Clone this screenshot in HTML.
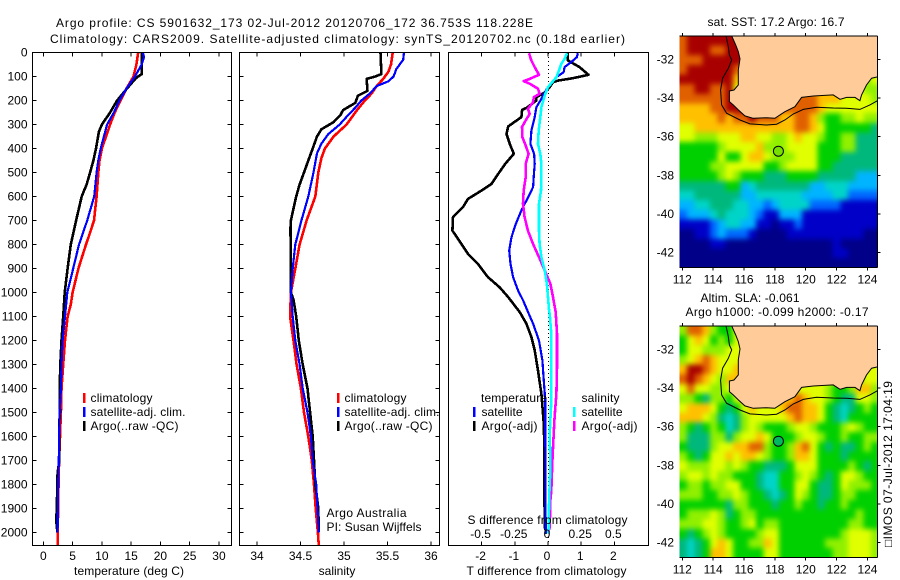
<!DOCTYPE html>
<html>
<head>
<meta charset="utf-8">
<title>Argo profile</title>
<style>
html,body{margin:0;padding:0;background:#fff;}
svg{display:block;}
text{font-family:"Liberation Sans",sans-serif;font-size:12px;fill:#000;}
</style>
</head>
<body>
<svg id="fig" xmlns="http://www.w3.org/2000/svg" width="900" height="580" viewBox="0 0 900 580">
<defs>
<clipPath id="clip-t"><rect x="33" y="53" width="198" height="492"/></clipPath>
<clipPath id="clip-s"><rect x="240" y="53" width="199" height="492"/></clipPath>
<clipPath id="clip-d"><rect x="449" y="53" width="199" height="492"/></clipPath>
<clipPath id="clip-m1"><rect x="679.5" y="36" width="198" height="231.5"/></clipPath>
<clipPath id="clip-m2"><rect x="679.5" y="326" width="198" height="231.5"/></clipPath>
<filter id="soften" filterUnits="userSpaceOnUse" x="640" y="0" width="260" height="580" color-interpolation-filters="sRGB"><feGaussianBlur stdDeviation="2.6"/></filter>
</defs>
</svg>
<script>
// ---- depth axis ----
const depthTicks = [0,100,200,300,400,500,600,700,800,900,1000,1100,1200,1300,1400,1500,1600,1700,1800,1900,2000];

// ---- temperature panel ----
const tempTicks = [0,5,10,15,20,25,30];
const tempClimDepth = [0,50,100,150,200,250,300,350,400,450,500,600,700,750,800,900,1000,1050,1100,1200,1300,1400,1500,1600,1700,1800,1900,2000,2055];
const tempClim = [16.2,15.9,15.4,14.2,13.2,12.2,11.4,10.7,10,9.6,9.4,9.1,8.65,8,7.3,6,5,4.7,4.15,3.7,3.4,3.1,3,2.85,2.7,2.6,2.55,2.45,2.45];
const tempSatDepth = [0,20,50,100,150,200,250,300,350,400,450,500,600,650,700,750,800,900,1000,1100,1200,1300,1400,1500,1600,1700,1800,1900,2000];
const tempSat = [17,17.2,16.8,15.65,14.2,13,12.05,10.9,10.35,9.8,9.4,9.1,8.7,8.1,7.5,6.8,6.1,5.1,4.1,3.7,3.3,3.1,3,2.8,2.7,2.65,2.55,2.5,2.45];
const tempArgoDepth = [0,90,100,110,150,200,250,300,330,400,450,500,550,600,700,800,900,1000,1100,1200,1300,1400,1500,1550,1700,1750,1900,1950,2000];
const tempArgo = [16.8,16.8,16.2,15.7,14.3,12.6,11.4,10,9.5,9,8.55,8,7.4,6.55,5.6,4.7,4.15,3.65,3.4,3.1,2.9,2.8,2.85,2.7,2.75,2.45,2.3,2.2,2.4];

// ---- salinity panel ----
const salTicks = [34,34.5,35,35.5,36];
const salClimDepth = [0,50,80,110,140,170,200,240,300,350,400,440,500,600,700,800,900,1000,1100,1200,1300,1400,1500,1600,1700,1800,1900,2000,2055];
const salClim = [35.56,35.54,35.51,35.45,35.375,35.32,35.24,35.15,35.03,34.88,34.78,34.74,34.705,34.67,34.57,34.49,34.44,34.39,34.38,34.42,34.455,34.505,34.54,34.59,34.63,34.655,34.675,34.7,34.71];
const salSatDepth = [0,30,50,70,100,120,140,170,200,230,260,300,340,380,420,500,600,700,800,900,1000,1100,1200,1300,1400,1500,1600,1700,1800,1900,2000];
const salSat = [35.69,35.68,35.64,35.6,35.57,35.51,35.375,35.3,35.2,35.13,35.05,34.95,34.82,34.74,34.69,34.65,34.59,34.51,34.44,34.41,34.39,34.41,34.44,34.49,34.525,34.58,34.62,34.64,34.68,34.695,34.71];
const salArgoDepth = [0,90,100,110,160,180,210,240,260,290,320,350,400,450,500,550,600,650,700,730,1000,1030,1100,1200,1300,1400,1500,1600,1700,1800,1900,2000];
const salArgo = [35.42,35.43,35.36,35.26,35.27,35.16,35.13,34.99,34.96,34.88,34.74,34.69,34.64,34.59,34.54,34.49,34.45,34.42,34.39,34.385,34.39,34.42,34.45,34.48,34.525,34.58,34.61,34.64,34.655,34.67,34.705,34.71];

// ---- difference panel ----
const dTempTicks = [-2,-1,0,1,2];
const dSalTicks = [-0.5,-0.25,0,0.25,0.5];
const dTempArgoDepth = [3,33,61,93,107,117,124,144,165,186,200,231,239,269,308,339,381,422,464,506,547,575,610,644,686,742,797,839,881,936,978,1019,1082,1130,1186,1241,1325,1422,1505,1561,1978,2005];
const dTempArgo = [0.6,0.6,0.95,1.22,0.75,0.3,0.15,0.05,-0.07,-0.35,-0.35,-0.65,-0.78,-0.8,-1.2,-1.25,-1.15,-1.03,-1.29,-1.5,-1.7,-2,-2.41,-2.56,-2.86,-2.88,-2.61,-2.41,-2.11,-1.81,-1.46,-1.2,-0.85,-0.65,-0.5,-0.4,-0.3,-0.2,-0.15,-0.12,-0.1,-0.03];
const dTempSatDepth = [3,19,40,61,82,103,144,179,200,228,269,325,381,422,464,519,561,603,658,714,769,825,881,936,992,1033,1082,1130,1200,1283,1380,1450,1589,1978,2005];
const dTempSat = [0.9,0.87,0.7,0.5,0.47,0.25,0,-0.15,-0.23,-0.35,-0.4,-0.5,-0.53,-0.42,-0.4,-0.43,-0.45,-0.6,-0.8,-0.97,-1.1,-1.17,-1.13,-1.05,-0.9,-0.75,-0.6,-0.45,-0.27,-0.17,-0.12,-0.08,-0.08,-0.07,-0.05];
const dSalSatDepth = [3,26,47,75,103,144,179,228,269,325,381,422,464,519,575,631,686,742,797,853,908,964,1019,1075,1089,1172,1311,1450,1589,1727,1866,1978,2005];
const dSalSat = [0.143,0.126,0.1,0.083,0.063,0,-0.025,-0.05,-0.058,-0.07,-0.075,-0.058,-0.05,-0.05,-0.053,-0.068,-0.068,-0.068,-0.063,-0.05,-0.025,-0.008,0,0.008,0.013,0.025,0.025,0.025,0.013,0.018,0.008,0.005,0];
const dSalArgoDepth = [3,33,61,93,110,119,130,151,172,186,207,235,256,283,311,353,388,422,464,519,575,631,686,742,797,853,908,964,1019,1082,1172,1311,1422,1519,1589,1700,1825,1866,1978,2005];
const dSalArgo = [-0.143,-0.126,-0.1,-0.068,-0.138,-0.183,-0.138,-0.075,-0.063,-0.106,-0.113,-0.151,-0.138,-0.168,-0.196,-0.193,-0.168,-0.146,-0.168,-0.168,-0.183,-0.188,-0.176,-0.151,-0.113,-0.068,-0.025,0.018,0.038,0.058,0.068,0.068,0.063,0.05,0.043,0.033,0.025,0.018,0.013,0];

// ---- maps ----
const lonTicks = [112,114,116,118,120,122,124];
const latTicks = [-32,-34,-36,-38,-40,-42];
const colorLevels = ['#000088','#0000c8','#0068ff','#00b4ff','#00d4c8','#00b87c','#00d000','#90f000','#e0ff00','#ffc000','#e06000','#a80000'];
const coastLon = [115.2,115.46,115.63,115.74,115.63,115.63,115.35,115.05,115.05,115.3,115.63,116.06,116.6,117.46,118,118.65,119.3,119.73,120.49,121.78,122.22,122.65,123.19,123.51,123.62,123.94,124.27,124.7];
const coastLat = [-30.79,-31.26,-31.6,-31.98,-32.55,-33.33,-33.59,-33.64,-34.19,-34.36,-34.62,-34.93,-35.05,-35.02,-35.05,-34.71,-34.45,-33.97,-33.9,-33.84,-34.07,-33.97,-33.97,-34.14,-33.84,-33.33,-32.98,-32.9];
const isobathLon = [114.83,114.98,115.05,115.2,114.98,114.61,114.48,114.55,114.87,115.74,116.38,117.46,118.11,118.65,119.19,119.84,120.7,121.78,122.65,123.51,124.16,124.7];
const isobathLat = [-30.79,-31.34,-31.78,-32.03,-32.47,-32.98,-33.59,-34.36,-34.79,-35.14,-35.34,-35.4,-35.36,-35.14,-34.83,-34.59,-34.48,-34.52,-34.53,-34.59,-34.36,-34.12];
const argoLon = 118.228;
const argoLat = -36.753;
const sstGrid = [
"abbbbbbbbbbbbbbbbbbbbbbbbb",
"abbbaabbbbbbbbbbbbbbbbbbbb",
"aaabbbbbbbbbbbbbbbbbbbbbbb",
"abbbbbba999999999999999888",
"bbbbbbb9799999999999999878",
"aabbaab889999999999998887 ".slice(0,25)+"7",
"aaaaaabbbbaaaaaaaa99988887",
"9999aabbbbbaaaaaaa98888888",
"99999a9aabaaa99aa976677877",
"889999999999999aa986666665",
"88777888998877898876677555",
"66666788889777888866677555",
"66666866899877788866655555",
"66667788888667888866555555",
"66666787666555666655555333",
"55555566345555555334443333",
"44555555334444443333442222",
"33445554433234444222211111",
"23334544432113331111111111",
"11112344331101121111111111",
"00112322210000111111111100",
"00001100000000000000100000",
"00000000000000000000110000",
"00000000000000000000000000"];
const slaGrid = [
"7aa97668888888888888888888",
"68986768888888888888888888",
"68877788888888888888888888",
"789a9888988888888888888888",
"9bba9889988888888888888888",
"aba98799988888888888888788",
"8a887788988888888887667997",
"77657768999999 9a9887655887".replace(' ',''),
"89998656898889aa9986545676",
"999875457888889a9986546666",
"76567645787666788766678766",
"75557757889866678876676677",
"655578899aa76679a865655676",
"76568898998766799866656666",
"87778878766555688866667656",
"78878776665446678765688766",
"67767788665446688655687776",
"77766778766545687655677666",
"66666657766656676656676666",
"67778756776666666666666766",
"77788766786776666666667766",
"65678766667886666666678887",
"54568986677986666667778887",
"54569986666886666666778887"];

// ---- axis functions ----
const SVGNS = 'http://www.w3.org/2000/svg';
const fig = document.getElementById('fig');
const yDepth = d => 52.5 + 0.24 * d;
const xTemp = t => 43.3 + 5.856 * t;
const xSal = s => 257 + 87 * (s - 34);
const xDT = v => 548 + 33.2 * v;
const xDS = v => 548 + 132.8 * v;
const xLon = lon => 682.3 + 15.43 * (lon - 112);
const yLat = lat => 59.3 + 19.33 * (-32 - lat);
const LON0 = 111.806, DLON = 0.4968, LAT0 = -30.79, DLAT = 0.5;

function addLine(parent, x1, y1, x2, y2, name) {
  const el = document.createElementNS(SVGNS, 'line');
  el.setAttribute('x1', x1); el.setAttribute('y1', y1);
  el.setAttribute('x2', x2); el.setAttribute('y2', y2);
  el.setAttribute('stroke', '#000');
  el.setAttribute('stroke-width', 1);
  el.setAttribute('shape-rendering', 'crispEdges');
  
  
  parent.appendChild(el);
  return el;
}
function addText(parent, x, y, str, name, anchor, len) {
  const el = document.createElementNS(SVGNS, 'text');
  el.setAttribute('x', x); el.setAttribute('y', y);
  if (anchor) el.setAttribute('text-anchor', anchor);
  if (len) { el.setAttribute('textLength', len); el.setAttribute('lengthAdjust', 'spacing'); }
  el.textContent = str;
  
  
  parent.appendChild(el);
  return el;
}
function addGroup(parent, name) {
  const el = document.createElementNS(SVGNS, 'g');
  
  
  parent.appendChild(el);
  return el;
}
function addSeries(parent, depths, values, xf, color, width, clip, name) {
  const el = document.createElementNS(SVGNS, 'polyline');
  el.setAttribute('points', values.map((v, i) => xf(v).toFixed(1) + ',' + yDepth(depths[i]).toFixed(1)).join(' '));
  el.setAttribute('fill', 'none');
  el.setAttribute('stroke', color);
  el.setAttribute('stroke-width', width);
  el.setAttribute('stroke-linejoin', 'round');
  el.setAttribute('shape-rendering', 'crispEdges');
  el.setAttribute('clip-path', 'url(#' + clip + ')');
  
  
  parent.appendChild(el);
  return el;
}
function addFrame(parent, x0, y0, x1, y1, name) {
  const el = document.createElementNS(SVGNS, 'rect');
  el.setAttribute('x', x0); el.setAttribute('y', y0);
  el.setAttribute('width', x1 - x0); el.setAttribute('height', y1 - y0);
  el.setAttribute('fill', 'none');
  el.setAttribute('stroke', '#000');
  el.setAttribute('shape-rendering', 'crispEdges');
  
  
  parent.appendChild(el);
  return el;
}
function addLegendMark(parent, x, y, color, name) {
  const el = document.createElementNS(SVGNS, 'rect');
  el.setAttribute('x', x - 1); el.setAttribute('y', y);
  el.setAttribute('width', 2.5); el.setAttribute('height', 10);
  el.setAttribute('fill', color);
  
  
  parent.appendChild(el);
  return el;
}
function xTicks(parent, ticks, xf, y0, y1, prefix) {
  ticks.forEach(t => {
    addLine(parent, xf(t), y0, xf(t), y0 + 4, prefix + '-tick-top');
    addLine(parent, xf(t), y1 - 4, xf(t), y1, prefix + '-tick-bottom');
  });
}
function yTicks(parent, x0, x1, prefix) {
  depthTicks.forEach(d => {
    addLine(parent, x0, yDepth(d), x0 + 4, yDepth(d), prefix + '-tick-left');
    addLine(parent, x1 - 4, yDepth(d), x1, yDepth(d), prefix + '-tick-right');
  });
}

// ---- titles ----
const titles = addGroup(fig, 'figure-title');
addText(titles, 56, 27, 'Argo profile: CS 5901632_173 02-Jul-2012 20120706_172 36.753S 118.228E', 'profile-title', null, 477);
addText(titles, 50, 43, 'Climatology: CARS2009. Satellite-adjusted climatology: synTS_20120702.nc (0.18d earlier)', 'climatology-title', null, 575);

// ---- temperature panel ----
const pT = addGroup(fig, 'temperature-panel');
addSeries(pT, tempClimDepth, tempClim, xTemp, '#ff0000', 2.6, 'clip-t', 'temperature-climatology-line');
addSeries(pT, tempArgoDepth, tempArgo, xTemp, '#000000', 2.6, 'clip-t', 'temperature-argo-line');
addSeries(pT, tempSatDepth, tempSat, xTemp, '#0000ff', 2.2, 'clip-t', 'temperature-satellite-line');
addFrame(pT, 32.5, 52.5, 231.5, 545.5, 'temperature-frame');
xTicks(pT, tempTicks, xTemp, 52.5, 545.5, 'temperature');
yTicks(pT, 32.5, 231.5, 'depth');
depthTicks.forEach(d => addText(pT, 27.5, yDepth(d) + 4, String(d), 'depth-tick-label', 'end'));
tempTicks.forEach(t => addText(pT, xTemp(t), 560, String(t), 'temperature-tick-label', 'middle'));
addText(pT, 74, 575, 'temperature (deg C)', 'temperature-axis-title', null, 110);
addLegendMark(pT, 84, 393, '#ff0000', 'legend-climatology-mark');
addText(pT, 90.5, 402, 'climatology', 'legend-climatology-label', null, 62);
addLegendMark(pT, 84, 407, '#0000ff', 'legend-satellite-mark');
addText(pT, 90.5, 416, 'satellite-adj. clim.', 'legend-satellite-label', null, 95);
addLegendMark(pT, 84, 421, '#000000', 'legend-argo-mark');
addText(pT, 90.5, 430, 'Argo(..raw -QC)', 'legend-argo-label', null, 88);

// ---- salinity panel ----
const pS = addGroup(fig, 'salinity-panel');
addSeries(pS, salClimDepth, salClim, xSal, '#ff0000', 2.6, 'clip-s', 'salinity-climatology-line');
addSeries(pS, salArgoDepth, salArgo, xSal, '#000000', 2.6, 'clip-s', 'salinity-argo-line');
addSeries(pS, salSatDepth, salSat, xSal, '#0000ff', 2.2, 'clip-s', 'salinity-satellite-line');
addFrame(pS, 239.5, 52.5, 439.5, 545.5, 'salinity-frame');
xTicks(pS, salTicks, xSal, 52.5, 545.5, 'salinity');
yTicks(pS, 239.5, 439.5, 'salinity-depth');
salTicks.forEach(t => addText(pS, xSal(t), 560, String(t), 'salinity-tick-label', 'middle'));
addText(pS, 337, 575, 'salinity', 'salinity-axis-title', 'middle');
addLegendMark(pS, 338, 393, '#ff0000', 'legend-climatology-mark');
addText(pS, 344.5, 402, 'climatology', 'legend-climatology-label', null, 62);
addLegendMark(pS, 338, 407, '#0000ff', 'legend-satellite-mark');
addText(pS, 344.5, 416, 'satellite-adj. clim.', 'legend-satellite-label', null, 95);
addLegendMark(pS, 338, 421, '#000000', 'legend-argo-mark');
addText(pS, 344.5, 430, 'Argo(..raw -QC)', 'legend-argo-label', null, 88);
addText(pS, 326.5, 517, 'Argo Australia', 'credit-argo-australia', null, 80);
addText(pS, 326.5, 531, 'PI: Susan Wijffels', 'credit-pi', null, 95);

// ---- difference panel ----
const pD = addGroup(fig, 'difference-panel');
for (let y = 53; y < 545; y += 4) {
  const dot = document.createElementNS(SVGNS, 'rect');
  dot.setAttribute('x', xDT(0)); dot.setAttribute('y', y);
  dot.setAttribute('width', 1); dot.setAttribute('height', 1);
  
  
  pD.appendChild(dot);
}
addSeries(pD, dTempArgoDepth, dTempArgo, xDT, '#000000', 2.6, 'clip-d', 'temperature-difference-argo-line');
addSeries(pD, dTempSatDepth, dTempSat, xDT, '#0000ff', 2.2, 'clip-d', 'temperature-difference-satellite-line');
addSeries(pD, dSalArgoDepth, dSalArgo, xDS, '#ff00ff', 2.6, 'clip-d', 'salinity-difference-argo-line');
addSeries(pD, dSalSatDepth, dSalSat, xDS, '#00ffff', 2.6, 'clip-d', 'salinity-difference-satellite-line');
addFrame(pD, 448.5, 52.5, 648.5, 545.5, 'difference-frame');
xTicks(pD, dTempTicks, xDT, 52.5, 545.5, 'difference');
dTempTicks.forEach(t => addText(pD, xDT(t) - 1, 560, String(t), 'temperature-difference-tick-label', 'middle'));
dSalTicks.forEach(t => addText(pD, xDS(t) - 1, 538, String(t), 'salinity-difference-tick-label', 'middle'));
addText(pD, 467.5, 524, 'S difference from climatology', 'salinity-difference-title', null, 160);
addText(pD, 466.5, 575, 'T difference from climatology', 'temperature-difference-title', null, 160);
addText(pD, 481, 402, 'temperature', 'legend-temperature-heading', null, 66);
addLegendMark(pD, 474, 407, '#0000ff', 'legend-temperature-satellite-mark');
addText(pD, 481.5, 416, 'satellite', 'legend-temperature-satellite-label', null, 41);
addLegendMark(pD, 474, 421, '#000000', 'legend-temperature-argo-mark');
addText(pD, 481.5, 430, 'Argo(-adj)', 'legend-temperature-argo-label', null, 56);
addText(pD, 581.5, 402, 'salinity', 'legend-salinity-heading', null, 38);
addLegendMark(pD, 574, 407, '#00ffff', 'legend-salinity-satellite-mark');
addText(pD, 581.5, 416, 'satellite', 'legend-salinity-satellite-label', null, 41);
addLegendMark(pD, 574, 421, '#ff00ff', 'legend-salinity-argo-mark');
addText(pD, 581.5, 430, 'Argo(-adj)', 'legend-salinity-argo-label', null, 56);

// ---- maps ----
function drawMap(grid, dy, clip, prefix, markerFill) {
  const g = addGroup(fig, prefix + '-map');
  const clipper = addGroup(g, prefix + '-heatmap-clip');
  clipper.setAttribute('clip-path', 'url(#' + clip + ')');
  const cells = addGroup(clipper, prefix + '-heatmap');
  cells.setAttribute('filter', 'url(#soften)');
  const lastRow = grid.length - 1;
  grid.forEach((row, r) => {
    const lastCol = row.length - 1;
    row.split('').forEach((ch, c) => {
      let x0 = xLon(LON0 + DLON * c);
      let x1 = xLon(LON0 + DLON * (c + 1));
      let y0 = yLat(LAT0 - DLAT * r) + dy;
      let y1 = yLat(LAT0 - DLAT * (r + 1)) + dy;
      if (c === 0) x0 -= 14;
      if (c === lastCol) x1 += 14;
      if (r === 0) y0 -= 14;
      if (r === lastRow) y1 += 14;
      const el = document.createElementNS(SVGNS, 'rect');
      el.setAttribute('x', x0.toFixed(2));
      el.setAttribute('y', y0.toFixed(2));
      el.setAttribute('width', (x1 - x0 + 0.4).toFixed(2));
      el.setAttribute('height', (y1 - y0 + 0.4).toFixed(2));
      el.setAttribute('fill', colorLevels[parseInt(ch, 12)]);
      el.setAttribute('shape-rendering', 'crispEdges');
      
      
      cells.appendChild(el);
    });
  });
  const geo = addGroup(g, prefix + '-geography');
  geo.setAttribute('clip-path', 'url(#' + clip + ')');
  const pts = coastLat.map((lat, i) => xLon(coastLon[i]).toFixed(1) + ',' + (yLat(lat) + dy).toFixed(1));
  const land = document.createElementNS(SVGNS, 'polygon');
  land.setAttribute('points', pts.join(' ') + ' ' + xLon(124.7).toFixed(1) + ',' + (yLat(-30.7) + dy).toFixed(1) + ' ' + xLon(115.2).toFixed(1) + ',' + (yLat(-30.7) + dy).toFixed(1));
  land.setAttribute('fill', '#ffcc99');
  
  
  geo.appendChild(land);
  const coast = document.createElementNS(SVGNS, 'polyline');
  coast.setAttribute('points', pts.join(' '));
  coast.setAttribute('fill', 'none');
  coast.setAttribute('stroke', '#000');
  coast.setAttribute('stroke-width', 1);
  
  
  geo.appendChild(coast);
  const iso = document.createElementNS(SVGNS, 'polyline');
  iso.setAttribute('points', isobathLat.map((lat, i) => xLon(isobathLon[i]).toFixed(1) + ',' + (yLat(lat) + dy).toFixed(1)).join(' '));
  iso.setAttribute('fill', 'none');
  iso.setAttribute('stroke', '#000');
  iso.setAttribute('stroke-width', 1);
  
  
  geo.appendChild(iso);
  const mk = document.createElementNS(SVGNS, 'circle');
  mk.setAttribute('cx', xLon(argoLon).toFixed(1));
  mk.setAttribute('cy', (yLat(argoLat) + dy).toFixed(1));
  mk.setAttribute('r', 5);
  mk.setAttribute('fill', markerFill);
  mk.setAttribute('stroke', '#000');
  mk.setAttribute('stroke-width', 1);
  
  
  g.appendChild(mk);
  const top = 36 + dy, bottom = 267.5 + dy, left = 679.5, right = 877.5;
  addLine(g, left, top, right, top, prefix + '-frame-top');
  addLine(g, left, bottom, right, bottom, prefix + '-frame-bottom');
  addLine(g, right, top, right, bottom, prefix + '-frame-right');
  lonTicks.forEach(t => {
    addLine(g, xLon(t), top - 3, xLon(t), top, prefix + '-lon-tick-top');
    addLine(g, xLon(t), bottom, xLon(t), bottom + 3, prefix + '-lon-tick-bottom');
    addText(g, xLon(t), bottom + 16, String(t), prefix + '-lon-tick-label', 'middle');
  });
  latTicks.forEach(t => {
    addLine(g, right, yLat(t) + dy, right + 3, yLat(t) + dy, prefix + '-lat-tick');
    addText(g, 674, yLat(t) + dy + 4, String(t), prefix + '-lat-tick-label', 'end');
  });
}
drawMap(sstGrid, 0, 'clip-m1', 'sst', '#78e000');
drawMap(slaGrid, 290, 'clip-m2', 'sla', '#00b860');

addText(fig, 707.5, 26, 'sat. SST: 17.2  Argo: 16.7', 'sst-map-title', null, 137);
addText(fig, 700.5, 302, 'Altim. SLA: -0.061', 'sla-map-title', null, 99);
addText(fig, 685.5, 316, 'Argo h1000: -0.099  h2000: -0.17', 'argo-height-title', null, 183);
const stamp = addText(fig, 0, 0, '\u25A1IMOS 07-Jul-2012 17:04:19', 'imos-timestamp', null, 166);
stamp.setAttribute('transform', 'translate(892,547) rotate(-90)');
</script>
</body>
</html>
